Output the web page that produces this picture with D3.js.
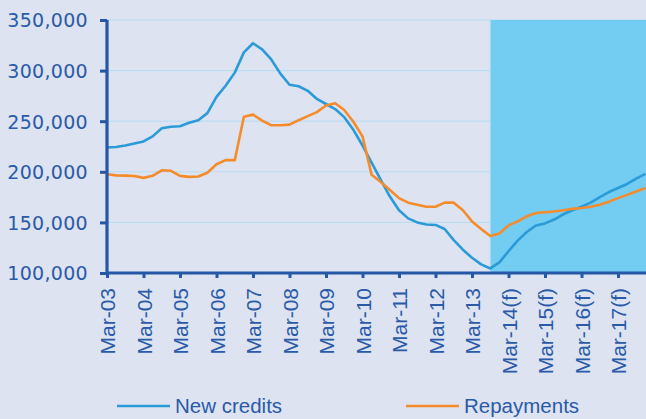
<!DOCTYPE html>
<html>
<head>
<meta charset="utf-8">
<script src="https://cdn.jsdelivr.net/npm/d3@7"></script>
<style>
  html, body { margin: 0; padding: 0; background: #dde3f0; }
  svg { display: block; }
</style>
</head>
<body>
<svg id="chart" width="646" height="419"></svg>
<script>
// Quarterly observations, Mar-03 to Dec-17; values in units
const years = ["03","04","05","06","07","08","09","10","11","12","13","14","15","16","17"];
const months = ["Mar","Jun","Sep","Dec"];
const forecastYears = ["14","15","16","17"];
const quarters = years.flatMap(y => months.map(m => `${m}-${y}`));
const forecastStart = "Sep-13";

const newCredits = [
  224000, 224500, 226000, 228000, 230000, 235000, 243000, 244500, 245000, 248500,
  251000, 258000, 274000, 285000, 298000, 318000, 327000, 321000, 311000, 297000,
  286000, 284500, 280000, 272000, 267000, 262000, 254000, 241500, 226000, 209000,
  192000, 175500, 162000, 154000, 150000, 148000, 147500, 143500, 132500, 123000,
  115000, 108500, 104500, 110500, 121500, 132000, 140500, 147000, 149000, 152800,
  158000, 162000, 165500, 169500, 175000, 180000, 184000, 188000, 193300, 198000
];
const repayments = [
  197500, 196500, 196200, 195800, 194000, 196000, 201500, 201000, 196000, 195000,
  195300, 199000, 207500, 211500, 211500, 254500, 256500, 250500, 246000, 246000,
  246600, 251000, 255000, 259000, 265500, 267700, 261000, 249500, 235000, 197000,
  190000, 182000, 174000, 169500, 167500, 165500, 165500, 169500, 169500, 162000,
  151000, 143500, 136500, 139000, 147000, 151000, 156000, 159300, 160000, 160800,
  162000, 163400, 164300, 165500, 167500, 170500, 174000, 177200, 180500, 184000
];
const yTicks = [100000, 150000, 200000, 250000, 300000, 350000];
const seriesNames = ["New credits", "Repayments"];
const seriesColors = ["#2a9bd7", "#f68b2c"];

const axisColor = "#2557a7";
const textColor = "#2a5aa8";
const gridColor = "#b6dcf2";
const forecastFill = "#73cdf2";

const svg = d3.select("#chart");
const plot = { left: 107, right: 645.4, top: 20, bottom: 273 };

const x = d3.scalePoint().domain(quarters).range([plot.left, plot.right]);
const y = d3.scaleLinear().domain([100000, 350000]).range([plot.bottom, plot.top]);

// gridlines
svg.append("g")
  .selectAll("line")
  .data(yTicks.filter(v => v > 100000))
  .join("line")
  .attr("x1", plot.left).attr("x2", 646)
  .attr("y1", d => y(d)).attr("y2", d => y(d))
  .attr("stroke", gridColor).attr("stroke-width", 1);

// forecast period band
svg.append("rect")
  .attr("x", x(forecastStart))
  .attr("y", y(350000))
  .attr("width", 646 - x(forecastStart))
  .attr("height", y(100000) - y(350000))
  .attr("fill", forecastFill);
svg.append("line")
  .attr("x1", x(forecastStart)).attr("x2", x(forecastStart))
  .attr("y1", y(350000)).attr("y2", y(100000))
  .attr("stroke", "#a9def5").attr("stroke-width", 1);

// series lines
const line = d3.line()
  .x((d, i) => x(quarters[i]))
  .y(d => y(d))
  .curve(d3.curveLinear);

[newCredits, repayments].forEach((vals, k) => {
  svg.append("path")
    .datum(vals)
    .attr("d", line)
    .attr("fill", "none")
    .attr("stroke", seriesColors[k])
    .attr("stroke-width", 2.6)
    .attr("stroke-linejoin", "round");
});

// y axis
const yAxis = svg.append("g")
  .attr("transform", `translate(${plot.left},0)`)
  .call(d3.axisLeft(y).tickValues(yTicks).tickSize(7).tickPadding(12)
    .tickFormat(d3.format(",")));
yAxis.select(".domain").attr("stroke", axisColor).attr("stroke-width", 3.2)
  .attr("d", `M0,${plot.top}V${plot.bottom + 1.5}`);
yAxis.selectAll(".tick line").attr("stroke", axisColor).attr("stroke-width", 3);
yAxis.selectAll(".tick text")
  .attr("fill", textColor)
  .attr("dy", "0.36em")
  .style("font-family", "'DejaVu Sans', sans-serif")
  .style("font-size", "19px")
  .style("letter-spacing", "0.3px");

// x axis
const tickLabels = quarters.filter(q => q.startsWith("Mar"));
const xAxis = svg.append("g")
  .attr("transform", `translate(0,${plot.bottom})`)
  .call(d3.axisBottom(x).tickValues(tickLabels).tickSize(5).tickPadding(6)
    .tickFormat(q => forecastYears.includes(q.slice(4)) ? `${q}(f)` : q));
xAxis.select(".domain").attr("stroke", axisColor).attr("stroke-width", 3.2)
  .attr("d", `M${plot.left},0H646`);
xAxis.selectAll(".tick line").attr("stroke", axisColor).attr("stroke-width", 3);
xAxis.selectAll(".tick text")
  .attr("fill", textColor)
  .attr("transform", "rotate(-90)")
  .attr("text-anchor", "end")
  .attr("x", -15)
  .attr("y", 0)
  .attr("dy", "0.36em")
  .style("font-family", "'Liberation Sans', Arial, sans-serif")
  .style("font-size", "21px");

// legend
const legendX = [117, 406];
const legend = svg.append("g");
seriesNames.forEach((name, k) => {
  legend.append("line")
    .attr("x1", legendX[k]).attr("x2", legendX[k] + 53)
    .attr("y1", 406).attr("y2", 406)
    .attr("stroke", seriesColors[k]).attr("stroke-width", 2.6);
  legend.append("text")
    .attr("x", legendX[k] + 58).attr("y", 413)
    .attr("fill", textColor)
    .style("font-family", "'Liberation Sans', Arial, sans-serif")
    .style("font-size", "20.5px")
    .text(name);
});
</script>
</body>
</html>
